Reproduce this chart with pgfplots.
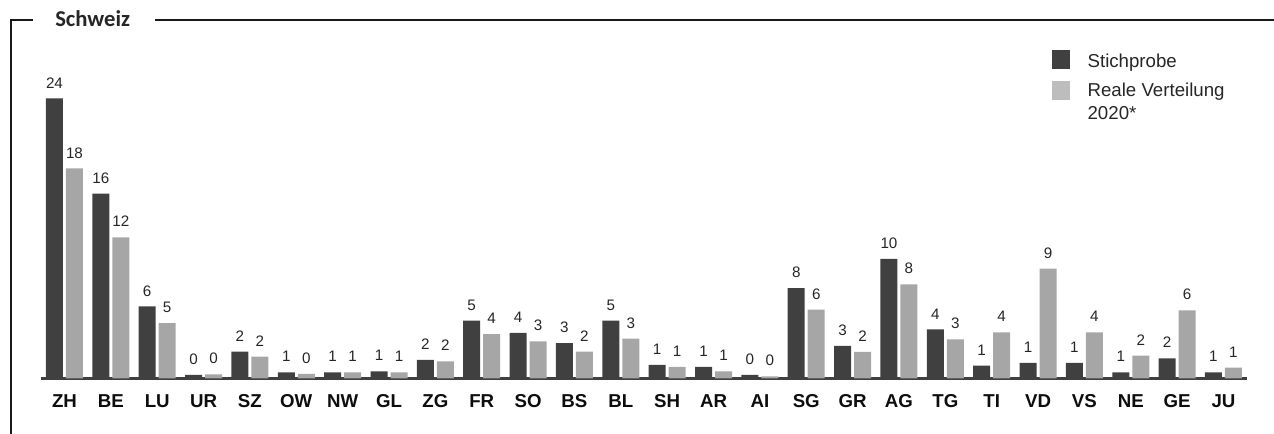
\documentclass[border=0pt]{standalone}
\usepackage{pgfplots}
\usepackage{pgfplotstable}
\pgfplotsset{compat=1.18}
\usepackage{fontspec}
\setmainfont{Liberation Sans}
\newfontfamily\titlefont{Carlito}
\definecolor{barDark}{HTML}{404040}
\definecolor{barLight}{HTML}{A6A6A6}
\definecolor{legLight}{HTML}{BDBDBD}
\definecolor{txt}{HTML}{262626}

\pgfplotstableread{
x name dark dl light ll
0 ZH 24.0 24 18.0 18
1 BE 15.85 16 12.1 12
2 LU 6.17 6 4.74 5
3 UR 0.30 0 0.36 0
4 SZ 2.30 2 1.87 2
5 OW 0.53 1 0.39 0
6 NW 0.53 1 0.53 1
7 GL 0.62 1 0.53 1
8 ZG 1.59 2 1.47 2
9 FR 4.95 5 3.81 4
10 SO 3.90 4 3.19 3
11 BS 3.02 3 2.30 2
12 BL 4.95 5 3.41 3
13 SH 1.16 1 0.99 1
14 AR 0.99 1 0.62 1
15 AI 0.30 0 0.19 0
16 SG 7.75 8 5.90 6
17 GR 2.79 3 2.27 2
18 AG 10.24 10 8.07 8
19 TG 4.20 4 3.36 3
20 TI 1.10 1 3.96 4
21 VD 1.33 1 9.41 9
22 VS 1.33 1 3.96 4
23 NE 0.53 1 1.95 2
24 GE 1.73 2 5.84 6
25 JU 0.53 1 0.93 1
}\datatable

\begin{document}
\begin{tikzpicture}
\path[use as bounding box] (0pt,0pt) rectangle (955.5pt,325.5pt);
% frame
\draw[line width=1.5pt,color=black!90] (8.5pt,0pt) -- (8.5pt,310.5pt) -- (24.75pt,310.5pt);
\draw[line width=1.5pt,color=black!90] (116.25pt,310.5pt) -- (955.5pt,310.5pt);
\node[anchor=base west,inner sep=0pt,font=\titlefont\bfseries\fontsize{17}{20}\selectfont,text=black!85] at (41.25pt,305.5pt) {Schweiz};

\begin{axis}[
  at={(30.98pt,41.63pt)}, anchor=south west,
  scale only axis,
  width=904pt, height=253.8pt,
  xmin=-0.5, xmax=25.5, ymin=0, ymax=29,
  axis x line=bottom, axis y line=none,
  x axis line style={-, line width=2.4pt, color=barDark},
  ytick=\empty,
  xtick=data,
  xticklabels from table={\datatable}{name},
  major tick length=0pt,
  xticklabel style={anchor=base, yshift=-22pt, font=\bfseries\fontsize{14}{16}\selectfont, text=black!95},
  ybar=2.25pt, bar width=12.75pt,
  clip=false,
  nodes near coords,
  point meta=explicit symbolic,
  nodes near coords style={anchor=base, yshift=7.8pt, inner sep=0pt, font=\fontsize{11.4}{13}\selectfont, text=txt},
]
\addplot[fill=barDark, draw=none] table[x=x, y=dark, meta=dl] {\datatable};
\addplot[fill=barLight, draw=none] table[x=x, y=light, meta=ll] {\datatable};
\end{axis}

% legend
\fill[barDark] (788.8pt,273.75pt) rectangle (802.5pt,288pt);
\fill[legLight] (788.8pt,250.5pt) rectangle (802.5pt,264.75pt);
\node[anchor=base west,inner sep=0pt,font=\fontsize{14}{17}\selectfont,text=txt] at (815.5pt,275pt) {Stichprobe};
\node[anchor=base west,inner sep=0pt,font=\fontsize{14}{17}\selectfont,text=txt] at (815.5pt,252.75pt) {Reale Verteilung};
\node[anchor=base west,inner sep=0pt,font=\fontsize{14}{17}\selectfont,text=txt] at (815.5pt,235.5pt) {2020*};
\end{tikzpicture}
\end{document}
